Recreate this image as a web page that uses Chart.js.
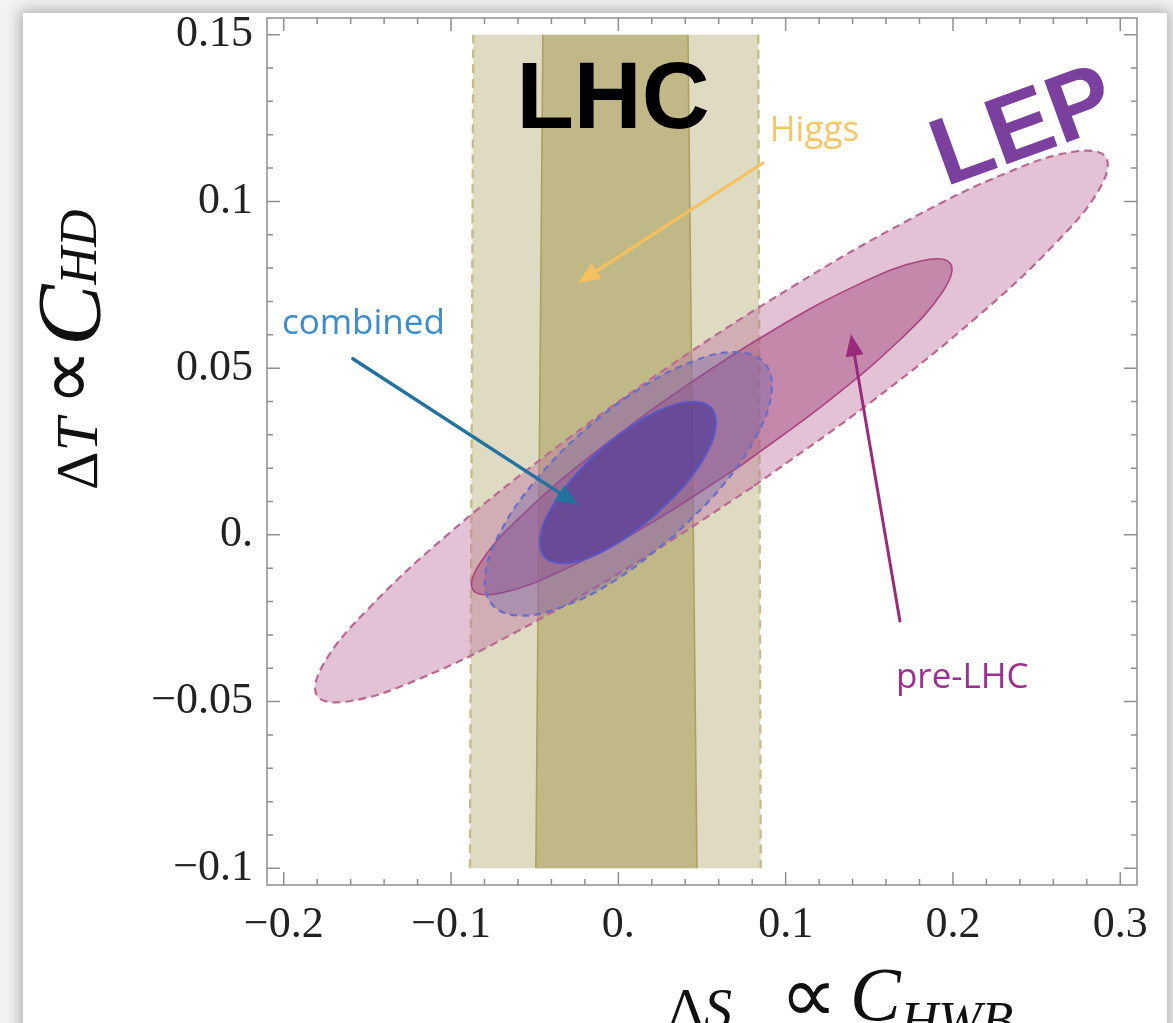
<!DOCTYPE html>
<html><head><meta charset="utf-8">
<script src="https://cdn.jsdelivr.net/npm/chart.js@4.4.1/dist/chart.umd.min.js"></script>
<style>
html,body{margin:0;padding:0;background:#f3f3f3;overflow:hidden;width:1173px;height:1023px;}
#card{position:absolute;left:23px;top:13px;width:1144px;height:1100px;background:#fff;box-shadow:0 0 14px 3px rgba(0,0,0,0.28);}
#wrap{position:absolute;left:0;top:0;width:1173px;height:1023px;}
</style></head><body>
<div id="card"></div>
<div id="wrap"><canvas id="c" width="1173" height="1023"></canvas></div>
<script>
// ---- axis ticks ----
const xTickValues = [-0.2, -0.1, 0, 0.1, 0.2, 0.3];
const xTickLabels = ['\u22120.2', '\u22120.1', '0.', '0.1', '0.2', '0.3'];
const yTickValues = [-0.1, -0.05, 0, 0.05, 0.1, 0.15];
const yTickLabels = ['\u22120.1', '\u22120.05', '0.', '0.05', '0.1', '0.15'];
const xMinorTicks = [-0.18, -0.16, -0.14, -0.12, -0.08, -0.06, -0.04, -0.02, 0.02, 0.04, 0.06, 0.08, 0.12, 0.14, 0.16, 0.18, 0.22, 0.24, 0.26, 0.28];
const yMinorTicks = [-0.09, -0.08, -0.07, -0.06, -0.04, -0.03, -0.02, -0.01, 0.01, 0.02, 0.03, 0.04, 0.06, 0.07, 0.08, 0.09, 0.11, 0.12, 0.13, 0.14];

// ---- LHC Higgs bands (corners) ----
const higgs95 = [{x:-0.0867,y:0.15},{x:0.0836,y:0.15},{x:0.0851,y:-0.10},{x:-0.0887,y:-0.10}];
const higgs68 = [{x:-0.0451,y:0.15},{x:0.0416,y:0.15},{x:0.0470,y:-0.10},{x:-0.0493,y:-0.10}];

// ---- LEP pre-LHC contours ----
const preLHC95 = [
 {x:0.0804,y:0.0144},{x:0.0063,y:-0.0097},{x:-0.0629,y:-0.0296},{x:-0.1205,y:-0.0435},{x:-0.1609,y:-0.0499},
 {x:-0.1800,y:-0.0483},{x:-0.1762,y:-0.0387},{x:-0.1495,y:-0.0222},{x:-0.1029,y:-0.0003},{x:-0.0407,y:0.0248},
 {x:0.0309,y:0.0507},{x:0.1050,y:0.0747},{x:0.1742,y:0.0946},{x:0.2318,y:0.1085},{x:0.2722,y:0.1149},
 {x:0.2913,y:0.1133},{x:0.2875,y:0.1037},{x:0.2608,y:0.0872},{x:0.2142,y:0.0653},{x:0.1520,y:0.0402}];
const preLHC68 = [
 {x:0.0721,y:0.0204},{x:0.0163,y:0.0026},{x:-0.0336,y:-0.0107},{x:-0.0698,y:-0.0174},
 {x:-0.0869,y:-0.0165},{x:-0.0823,y:-0.0082},{x:-0.0567,y:0.0063},{x:-0.0139,y:0.0247},
 {x:0.0395,y:0.0444},{x:0.0953,y:0.0622},{x:0.1452,y:0.0755},{x:0.1814,y:0.0822},
 {x:0.1985,y:0.0813},{x:0.1939,y:0.0730},{x:0.1683,y:0.0585},{x:0.1255,y:0.0401}];

// ---- combined contours ----
const combined95 = [
 {x:0.0335,y:-0.0002},{x:0.0003,y:-0.0129},{x:-0.0320,y:-0.0213},{x:-0.0585,y:-0.0242},
 {x:-0.0752,y:-0.0210},{x:-0.0796,y:-0.0124},{x:-0.0709,y:0.0005},{x:-0.0505,y:0.0157},
 {x:-0.0215,y:0.0308},{x:0.0117,y:0.0435},{x:0.0440,y:0.0519},{x:0.0705,y:0.0548},
 {x:0.0872,y:0.0516},{x:0.0916,y:0.0430},{x:0.0829,y:0.0301},{x:0.0625,y:0.0149}];
const combined68 = [
 {x:0.0226,y:0.0062},{x:0.0023,y:-0.0016},{x:-0.0175,y:-0.0068},{x:-0.0338,y:-0.0085},
 {x:-0.0441,y:-0.0066},{x:-0.0468,y:-0.0012},{x:-0.0415,y:0.0067},{x:-0.0290,y:0.0160},
 {x:-0.0112,y:0.0252},{x:0.0091,y:0.0330},{x:0.0289,y:0.0382},{x:0.0452,y:0.0399},
 {x:0.0555,y:0.0380},{x:0.0582,y:0.0326},{x:0.0529,y:0.0247},{x:0.0404,y:0.0154}];

// ---- annotations (data coordinates) ----
const arrowHiggs    = {from:{x:0.0864,y:0.1115},  to:{x:-0.0241,y:0.0755}};
const arrowCombined = {from:{x:-0.1587,y:0.0528}, to:{x:-0.0241,y:0.0090}};
const arrowPreLHC   = {from:{x:0.1683,y:-0.0258}, to:{x:0.1390,y:0.0602}};
const textLHC      = {text:'LHC',      at:{x:-0.0032,y:0.1220}};
const textLEP      = {text:'LEP',      at:{x:0.2480,y:0.1140}};
const textHiggs    = {text:'Higgs',    at:{x:0.0905,y:0.1181}};
const textCombined = {text:'combined', at:{x:-0.2011,y:0.0602}};
const textPreLHC   = {text:'pre-LHC',  at:{x:0.1659,y:-0.0459}};

const closed = a => a.concat([a[0]]);
const edge = (a,i,j) => [a[i], a[j]];

function arrow(ctx,x0,y0,x1,y1,color,w,hl,hw){
  const ang=Math.atan2(y1-y0,x1-x0);
  const bx=x1-hl*Math.cos(ang), by=y1-hl*Math.sin(ang);
  ctx.save();
  ctx.strokeStyle=color; ctx.lineWidth=w; ctx.lineCap='round';
  ctx.beginPath(); ctx.moveTo(x0,y0); ctx.lineTo(bx,by); ctx.stroke();
  ctx.fillStyle=color; ctx.beginPath(); ctx.moveTo(x1,y1);
  ctx.lineTo(bx+hw*Math.sin(ang), by-hw*Math.cos(ang));
  ctx.lineTo(bx-hw*Math.sin(ang), by+hw*Math.cos(ang)); ctx.closePath(); ctx.fill();
  ctx.restore();
}
// pieces placed along the writing direction: {t, font, at (start along run), base (baseline offset)}
function place(ctx, pieces){
  for(const p of pieces){
    ctx.font=p.font;
    if(p.at===undefined){ ctx.fillText(p.t, place.x, p.base); place.x+=ctx.measureText(p.t).width; }
    else { ctx.fillText(p.t, p.at, p.base); place.x=p.at+ctx.measureText(p.t).width; }
  }
}
place.x=0;

const framePlugin = {
  id:'frameAnnot',
  afterDatasetsDraw(chart){
    const {ctx, chartArea:a, scales:{x:xs,y:ys}} = chart;
    ctx.save();
    ctx.strokeStyle='#8f8f8f'; ctx.lineWidth=1.5;
    ctx.strokeRect(a.left, a.top, a.right-a.left, a.bottom-a.top);
    const tick=(vals,len,isX)=>{
      ctx.beginPath();
      for(const v of vals){
        if(isX){ const p=xs.getPixelForValue(v);
          ctx.moveTo(p,a.bottom); ctx.lineTo(p,a.bottom-len);
          ctx.moveTo(p,a.top); ctx.lineTo(p,a.top+len);
        } else { const p=ys.getPixelForValue(v);
          ctx.moveTo(a.left,p); ctx.lineTo(a.left+len,p);
          ctx.moveTo(a.right,p); ctx.lineTo(a.right-len,p);
        }
      }
      ctx.stroke();
    };
    tick(xTickValues,13,true); tick(xMinorTicks,6,true);
    tick(yTickValues,13,false); tick(yMinorTicks,6,false);
    ctx.restore();

    const P = pt => [xs.getPixelForValue(pt.x), ys.getPixelForValue(pt.y)];
    const ar=(o,c,w)=>{const f=P(o.from), t=P(o.to); arrow(ctx,f[0],f[1],t[0],t[1],c,w,22,9);};
    ar(arrowHiggs,'#f6c15c',3);
    ar(arrowCombined,'#22739f',3.5);
    ar(arrowPreLHC,'#9c2a7c',3);

    ctx.save();
    ctx.textBaseline='alphabetic';
    let p=P(textLHC.at);
    ctx.textAlign='center'; ctx.fillStyle='#000'; ctx.font='bold 94px "Liberation Sans", Arial, sans-serif';
    ctx.fillText(textLHC.text,p[0],p[1]);
    p=P(textLEP.at);
    ctx.save(); ctx.translate(p[0],p[1]); ctx.rotate(-20*Math.PI/180);
    ctx.fillStyle='#7b3f9d'; ctx.font='bold 96px "Liberation Sans", Arial, sans-serif';
    ctx.fillText(textLEP.text,0,0); ctx.restore();
    ctx.textAlign='left'; ctx.font='35px "Open Sans", sans-serif';
    p=P(textHiggs.at); ctx.fillStyle='#f6c564'; ctx.fillText(textHiggs.text,p[0],p[1]);
    p=P(textCombined.at); ctx.fillStyle='#3b8dcc'; ctx.fillText(textCombined.text,p[0],p[1]);
    p=P(textPreLHC.at); ctx.fillStyle='#9c2f8f'; ctx.fillText(textPreLHC.text,p[0],p[1]);
    ctx.restore();
  },
  afterDraw(chart){
    const ctx=chart.ctx;
    const S='"Liberation Serif", serif', D='"DejaVu Sans", sans-serif';
    ctx.save(); ctx.fillStyle='#111'; ctx.textAlign='left'; ctx.textBaseline='alphabetic';
    // y title (rotated; run axis = upward, baseline offset = screen x - 97)
    ctx.save(); ctx.translate(97,490); ctx.rotate(-Math.PI/2);
    place(ctx,[{t:'\u0394',font:'60px '+S,at:0,base:0},{t:'T',font:'italic 60px '+S,base:0},
               {t:'\u221D',font:'80px '+D,at:84,base:-4},
               {t:'C',font:'italic 92px '+S,at:144,base:3},
               {t:'HD',font:'italic 52px '+S,base:-1}]);
    ctx.restore();
    // x title
    place(ctx,[{t:'\u0394',font:'56px '+S,at:668,base:1028},{t:'S',font:'italic 56px '+S,base:1028},
               {t:'\u221D',font:'80px '+D,at:780,base:1022},
               {t:'C',font:'italic 76px '+S,at:850,base:1020},
               {t:'HWB',font:'italic 52px '+S,base:1038}]);
    ctx.restore();
  }
};

const base = {pointRadius:0, pointHoverRadius:0, tension:0.4, fill:'shape'};
new Chart(document.getElementById('c'), {
  type:'line',
  data:{datasets:[
    Object.assign({label:'combined 68%', data:closed(combined68), order:1, backgroundColor:'rgba(86,62,152,0.74)', borderColor:'#5b56c4', borderWidth:2},base),
    Object.assign({label:'combined 95%', data:closed(combined95), order:2, backgroundColor:'rgba(110,96,170,0.36)', borderColor:'#6a6dc8', borderWidth:2.2, borderDash:[7,5]},base),
    Object.assign({label:'pre-LHC 68%', data:closed(preLHC68), order:3, backgroundColor:'rgba(166,78,128,0.5)', borderColor:'#a8467e', borderWidth:1.6},base),
    Object.assign({label:'pre-LHC 95%', data:closed(preLHC95), order:4, backgroundColor:'rgba(191,119,159,0.45)', borderColor:'#b96a93', borderWidth:2.2, borderDash:[8,5]},base),
    {label:'Higgs 68% L', data:edge(higgs68,3,0), order:5, borderColor:'#aaa35f', borderWidth:1.6, pointRadius:0, fill:false, tension:0},
    {label:'Higgs 68% R', data:edge(higgs68,1,2), order:5, borderColor:'#aaa35f', borderWidth:1.6, pointRadius:0, fill:false, tension:0},
    {label:'Higgs 95% L', data:edge(higgs95,3,0), order:6, borderColor:'#c6be89', borderWidth:2.4, borderDash:[9,6], pointRadius:0, fill:false, tension:0},
    {label:'Higgs 95% R', data:edge(higgs95,1,2), order:6, borderColor:'#c6be89', borderWidth:2.4, borderDash:[9,6], pointRadius:0, fill:false, tension:0},
    {label:'Higgs 68%', data:closed(higgs68), order:7, backgroundColor:'#c0b886', borderColor:'rgba(0,0,0,0)', borderWidth:0.01, pointRadius:0, fill:'shape', tension:0},
    {label:'Higgs 95%', data:closed(higgs95), order:8, backgroundColor:'#dfdbc3', borderColor:'rgba(0,0,0,0)', borderWidth:0.01, pointRadius:0, fill:'shape', tension:0}
  ]},
  options:{
    responsive:false, animation:false, devicePixelRatio:1,
    layout:{padding:{top:18,right:36,left:0,bottom:0}},
    plugins:{legend:{display:false}, tooltip:{enabled:false}},
    events:[],
    scales:{
      x:{type:'linear', position:'bottom', min:-0.21, max:0.31,
        afterBuildTicks:s=>{s.ticks=xTickValues.map(v=>({value:v}));},
        afterFit:s=>{s.height=138; s.paddingLeft=0; s.paddingRight=0;},
        ticks:{callback:(v,i)=>xTickLabels[i], font:{family:'"Liberation Serif", serif', size:44}, color:'#222', padding:14, maxRotation:0, autoSkip:false},
        grid:{display:false, drawTicks:false}, border:{display:false}},
      y:{type:'linear', position:'left', min:-0.105, max:0.155,
        afterBuildTicks:s=>{s.ticks=yTickValues.map(v=>({value:v}));},
        afterFit:s=>{s.width=267; s.paddingTop=0; s.paddingBottom=0;},
        ticks:{callback:(v,i)=>yTickLabels[i], font:{family:'"Liberation Serif", serif', size:44}, color:'#222', padding:14, autoSkip:false},
        grid:{display:false, drawTicks:false}, border:{display:false}}
    }
  },
  plugins:[framePlugin]
});
</script></body></html>
